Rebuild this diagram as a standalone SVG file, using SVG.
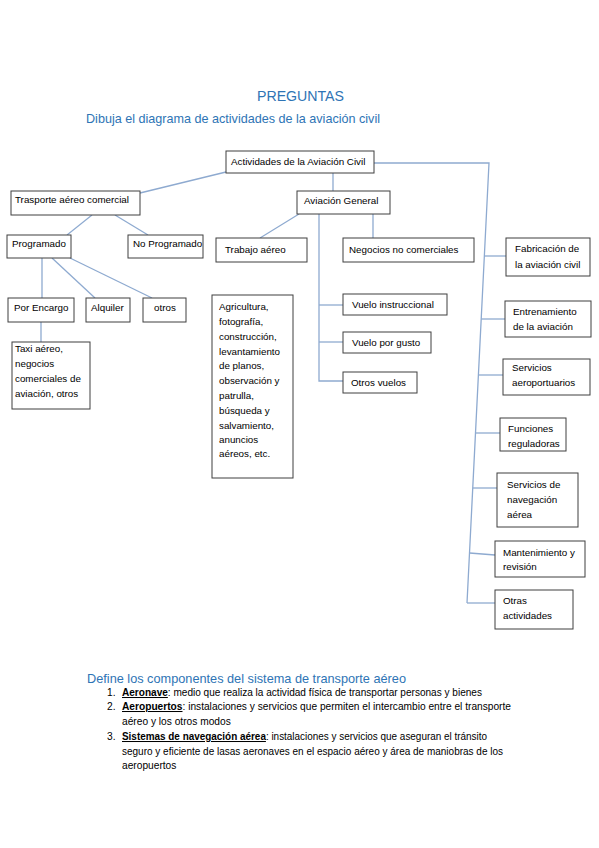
<svg xmlns="http://www.w3.org/2000/svg" width="599" height="848" viewBox="0 0 599 848">
<style>
.bg{fill:#ffffff}
.box{fill:#ffffff;stroke:#3f3f3f;stroke-width:1}
.t{font-family:"Liberation Sans",Arial,sans-serif;font-size:9.8px;fill:#000}
.c{fill:none;stroke:#8eaad0;stroke-width:1.3}
.h{font-family:"Liberation Sans",Arial,sans-serif;fill:#2e74b5}
.li{font-family:"Liberation Sans",Arial,sans-serif;font-size:10.2px;fill:#000}
.b{font-weight:bold;text-decoration:underline}
</style>
<rect class="bg" x="0" y="0" width="599" height="848"/>
<text class="h" x="257" y="101" font-size="15.5" textLength="87" lengthAdjust="spacingAndGlyphs">PREGUNTAS</text>
<text class="h" x="86" y="123" font-size="13" textLength="294" lengthAdjust="spacingAndGlyphs">Dibuja el diagrama de actividades de la aviación civil</text>

<g id="connectors">
<line class="c" x1="226" y1="172" x2="140" y2="193"/>
<line class="c" x1="333" y1="173" x2="333" y2="191"/>
<polyline class="c" points="374,163 489,163 467,603"/>
<line class="c" x1="484.3" y1="256" x2="506" y2="256"/>
<line class="c" x1="481.2" y1="319" x2="505" y2="319"/>
<line class="c" x1="478.4" y1="375" x2="503" y2="375"/>
<line class="c" x1="475.5" y1="433" x2="500" y2="433"/>
<line class="c" x1="472.8" y1="488" x2="497" y2="488"/>
<line class="c" x1="469.5" y1="553" x2="495" y2="555"/>
<line class="c" x1="467" y1="603" x2="495" y2="603"/>
<line class="c" x1="92" y1="215" x2="67" y2="235"/>
<line class="c" x1="115" y1="215" x2="148" y2="235"/>
<line class="c" x1="42" y1="258" x2="42" y2="298"/>
<line class="c" x1="52" y1="258" x2="95" y2="298"/>
<line class="c" x1="70" y1="258" x2="152" y2="298"/>
<line class="c" x1="41" y1="322" x2="41" y2="342"/>
<line class="c" x1="299" y1="214" x2="260" y2="238"/>
<line class="c" x1="373" y1="214" x2="373" y2="238"/>
<polyline class="c" points="319,214 319,381 343,381"/>
<line class="c" x1="319" y1="305" x2="343" y2="305"/>
<line class="c" x1="319" y1="342" x2="343" y2="342"/>
</g>

<g id="root"><rect class="box" x="226" y="151" width="148" height="22"/><text class="t" x="231" y="165">Actividades de la Aviación Civil</text></g>
<g id="tac"><rect class="box" x="11" y="191" width="129" height="24"/><text class="t" x="15" y="203">Trasporte aéreo comercial</text></g>
<g id="ag"><rect class="box" x="297" y="191" width="93" height="23"/><text class="t" x="304" y="204">Aviación General</text></g>
<g id="prog"><rect class="box" x="7" y="235" width="64" height="23"/><text class="t" x="12" y="247">Programado</text></g>
<g id="noprog"><rect class="box" x="128" y="235" width="75" height="23"/><text class="t" x="133" y="247">No Programado</text></g>
<g id="trabajo"><rect class="box" x="216" y="238" width="91" height="24"/><text class="t" x="225" y="253">Trabajo aéreo</text></g>
<g id="negocios"><rect class="box" x="343" y="238" width="131" height="24"/><text class="t" x="349" y="253">Negocios no comerciales</text></g>
<g id="fabricacion"><rect class="box" x="506" y="238" width="84" height="38"/><text class="t" x="515" y="252">Fabricación de</text><text class="t" x="515" y="268">la aviación civil</text></g>
<g id="porencargo"><rect class="box" x="8" y="298" width="66" height="24"/><text class="t" x="14" y="311">Por Encargo</text></g>
<g id="alquiler"><rect class="box" x="86" y="298" width="44" height="24"/><text class="t" x="91" y="311">Alquiler</text></g>
<g id="otros"><rect class="box" x="143" y="298" width="43" height="24"/><text class="t" x="154" y="311">otros</text></g>
<g id="taxi"><rect class="box" x="12" y="342" width="78" height="67"/>
<text class="t" x="15" y="352">Taxi aéreo,</text>
<text class="t" x="15" y="367">negocios</text>
<text class="t" x="15" y="382">comerciales de</text>
<text class="t" x="15" y="397">aviación, otros</text></g>
<g id="agricultura"><rect class="box" x="212" y="295" width="81" height="183"/>
<text class="t" x="219" y="310">Agricultura,</text>
<text class="t" x="219" y="325">fotografía,</text>
<text class="t" x="219" y="340">construcción,</text>
<text class="t" x="219" y="355">levantamiento</text>
<text class="t" x="219" y="369">de planos,</text>
<text class="t" x="219" y="384">observación y</text>
<text class="t" x="219" y="399">patrulla,</text>
<text class="t" x="219" y="414">búsqueda y</text>
<text class="t" x="219" y="429">salvamiento,</text>
<text class="t" x="219" y="443">anuncios</text>
<text class="t" x="219" y="457">aéreos, etc.</text></g>
<g id="vueloinstr"><rect class="box" x="343" y="294" width="104" height="21"/><text class="t" x="352" y="308">Vuelo instruccional</text></g>
<g id="vuelogusto"><rect class="box" x="343" y="332" width="88" height="21"/><text class="t" x="352" y="346">Vuelo por gusto</text></g>
<g id="otrosvuelos"><rect class="box" x="343" y="372" width="74" height="21"/><text class="t" x="351" y="386">Otros vuelos</text></g>
<g id="entrenamiento"><rect class="box" x="505" y="301" width="86" height="36"/><text class="t" x="513" y="315">Entrenamiento</text><text class="t" x="513" y="330">de la aviación</text></g>
<g id="servaero"><rect class="box" x="503" y="359" width="87" height="36"/><text class="t" x="512" y="371">Servicios</text><text class="t" x="512" y="386">aeroportuarios</text></g>
<g id="funciones"><rect class="box" x="500" y="418" width="66" height="33"/><text class="t" x="508" y="432">Funciones</text><text class="t" x="508" y="447">reguladoras</text></g>
<g id="navegacion"><rect class="box" x="497" y="473" width="81" height="54"/><text class="t" x="507" y="488">Servicios de</text><text class="t" x="507" y="503">navegación</text><text class="t" x="507" y="518">aérea</text></g>
<g id="mantenimiento"><rect class="box" x="495" y="541" width="90" height="36"/><text class="t" x="503" y="556">Mantenimiento y</text><text class="t" x="503" y="570">revisión</text></g>
<g id="otrasact"><rect class="box" x="495" y="590" width="78" height="39"/><text class="t" x="503" y="604">Otras</text><text class="t" x="503" y="619">actividades</text></g>

<text class="h" x="87" y="683" font-size="13" textLength="319" lengthAdjust="spacingAndGlyphs">Define los componentes del sistema de transporte aéreo</text>
<text class="li" x="107" y="696">1.</text>
<text class="li" x="122" y="696" textLength="360" lengthAdjust="spacingAndGlyphs"><tspan class="b">Aeronave</tspan>: medio que realiza la actividad física de transportar personas y bienes</text>
<text class="li" x="107" y="710">2.</text>
<text class="li" x="122" y="710" textLength="389" lengthAdjust="spacingAndGlyphs"><tspan class="b">Aeropuertos</tspan>: instalaciones y servicios que permiten el intercambio entre el transporte</text>
<text class="li" x="122" y="725">aéreo y los otros modos</text>
<text class="li" x="107" y="740">3.</text>
<text class="li" x="122" y="740" textLength="365" lengthAdjust="spacingAndGlyphs"><tspan class="b">Sistemas de navegación aérea</tspan>: instalaciones y servicios que aseguran el tránsito</text>
<text class="li" x="122" y="755" textLength="381" lengthAdjust="spacingAndGlyphs">seguro y eficiente de lasas aeronaves en el espacio aéreo y área de maniobras de los</text>
<text class="li" x="122" y="769">aeropuertos</text>
</svg>
